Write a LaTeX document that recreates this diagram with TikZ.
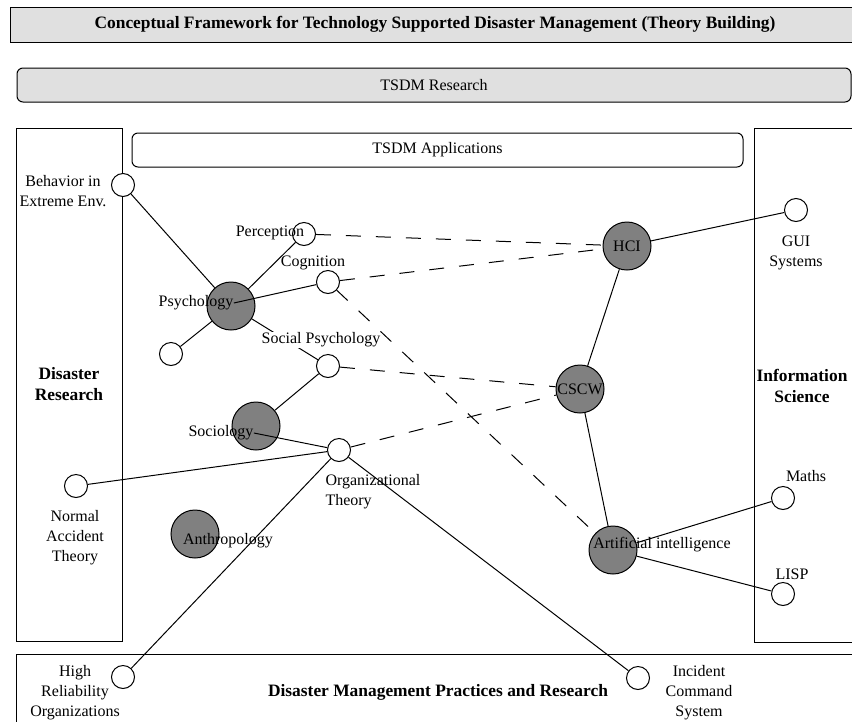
\documentclass[tikz,border=0pt]{standalone}
\usepackage{fontspec}
\setmainfont{Liberation Serif}
\usepackage{xcolor}
\usepackage{tikz}
\definecolor{circgray}{HTML}{808080}
\definecolor{boxgray}{HTML}{E0E0E0}

\begin{document}
\begin{tikzpicture}[x=1pt, y=-1pt, line width=1pt,
    font=\fontsize{16}{20}\selectfont,
    bigc/.style={circle, draw, fill=circgray, minimum size=48pt, inner sep=0pt},
    smallc/.style={circle, draw, fill=white, minimum size=23pt, inner sep=0pt},
    lbl/.style={align=center, inner sep=0pt},
    area/.style={rectangle, draw, inner sep=0pt, align=center},
    bold/.style={font=\bfseries\fontsize{17.4}{21}\selectfont},
    dlink/.style={dash pattern=on 15pt off 15pt}]

    \useasboundingbox (0,0) rectangle (852,721);
    \clip (0,0) rectangle (852,721);

    % frame boxes
    \node [area, bold, fill=boxgray, minimum width=850pt, minimum height=35pt] (title) at (435,24.5) {Conceptual Framework for Technology Supported Disaster Management (Theory Building)};
    \node [area, fill=boxgray, rounded corners=6pt, minimum width=834pt, minimum height=34pt] (research) at (434,85) {TSDM Research};
    \node [area, bold, minimum width=106pt, minimum height=513pt] (disres) at (69,384.5) {Disaster\\Research};
    \node [area, fill=white, rounded corners=6pt, minimum width=611pt, minimum height=34pt] (apps) at (437.5,150) {TSDM Applications};
    \node [area, minimum width=106pt, minimum height=514pt] (infosci) at (807,385) {};
    \node [lbl, bold] (infolbl) at (802,386) {Information\\Science};
    \node [area, bold, minimum width=844pt, minimum height=76pt] (dmpr) at (438,692) {Disaster Management Practices and Research};

    % disciplines
    \node [bigc] (psy) at (231,306) {};
    \node [bigc] (soc) at (256,426) {};
    \node [bigc] (anth) at (195,534) {};
    \node [bigc] (hci) at (627,246) {HCI};
    \node [bigc] (cscw) at (580,389) {CSCW};
    \node [bigc] (ai) at (613,550) {};

    % topics
    \node [smallc] (behav) at (123,185) {};
    \node [smallc] (perc) at (304,234) {};
    \node [smallc] (cogn) at (328,282) {};
    \node [smallc] (psyx) at (171,354) {};
    \node [smallc] (socpsy) at (328,366) {};
    \node [smallc] (org) at (339,450) {};
    \node [smallc] (nat) at (76,486) {};
    \node [smallc] (hro) at (123,677) {};
    \node [smallc] (ics) at (638,678) {};
    \node [smallc] (gui) at (796,210) {};
    \node [smallc] (maths) at (783,498) {};
    \node [smallc] (lisp) at (783,594) {};

    % labels
    \node [lbl] (behavlbl) at (63,191.5) {Behavior in\\Extreme Env.};
    \node [lbl] (perclbl) at (270,233) {Perception};
    \node [lbl] (cognlbl) at (313,263) {Cognition};
    \node [lbl] (psylbl) at (196,303) {Psychology};
    \node [lbl] (soclbl) at (221,433) {Sociology};
    \node [lbl, align=left, anchor=west] (orglbl) at (325,492) {Organizational\\Theory};
    \node [lbl] (natlbl) at (75,538) {Normal\\Accident\\Theory};
    \node [lbl] (anthlbl) at (228,541) {Anthropology};
    \node [lbl] (hrolbl) at (75,693) {High\\Reliability\\Organizations};
    \node [lbl] (icslbl) at (699,693) {Incident\\Command\\System};
    \node [lbl] (guilbl) at (796,252.5) {GUI\\Systems};
    \node [lbl] (mathslbl) at (806,476) {Maths};
    \node [lbl] (lisplbl) at (792,574) {LISP};
    \node [lbl] (ailbl) at (662,545) {Artificial intelligence};

    % solid links
    \draw (behav) -- (psy);
    \draw (psy) -- (perc);
    \draw (psylbl.east) -- (cogn);
    \draw (psy) -- (psyx);
    \draw (psy) -- (socpsy);
    \draw (socpsy) -- (soc);
    \draw (soclbl.east) -- (org);
    \draw (nat) -- (org);
    \draw (org) -- (hro);
    \draw (org) -- (ics);
    \draw (hci) -- (gui);
    \draw (hci) -- (cscw);
    \draw (cscw) -- (ai);
    \draw (ai) -- (maths);
    \draw (ai) -- (lisp);

    \node [lbl, fill=white, inner sep=1pt] (socpsylbl) at (321,340) {Social Psychology};

    % dashed links
    \draw [dlink] (perc) -- (hci);
    \draw [dlink] (cogn) -- (hci);
    \draw [dlink] (cogn) -- (ai);
    \draw [dlink] (socpsy) -- (cscw);
    \draw [dlink] (org) -- (cscw);
\end{tikzpicture}
\end{document}
